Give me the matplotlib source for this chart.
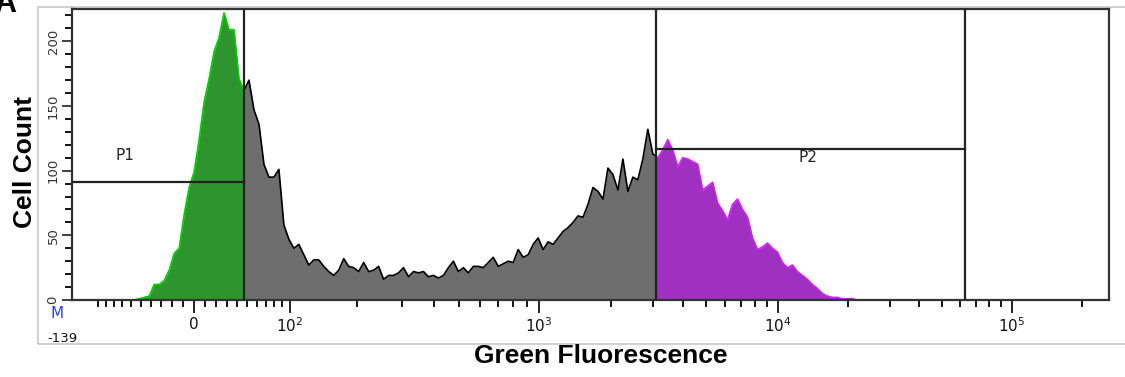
import numpy as np
import matplotlib.pyplot as plt
from matplotlib.patches import Rectangle

# ---- biexponential axis calibration (value -> fraction of axis width) ----
axis_values = [-139, 0, 100, 1000, 10000, 100000, 262143]
axis_fracs = [0.0, 0.1176, 0.2102, 0.4503, 0.6808, 0.9065, 1.0]

# ---- histogram (display channels, counts) ----
n_bins = 208
first_bin = 13
cell_counts = [
    1, 2, 3, 12, 12, 15, 23, 36, 40, 66, 87, 99, 124, 153, 171, 192, 203,
    222, 209, 209, 171, 162, 170, 147, 136, 105, 95, 95, 101, 58, 47, 40,
    43, 35, 27, 31, 31, 26, 22, 19, 23, 32, 26, 25, 22, 29, 22, 23, 26, 16,
    19, 19, 21, 25, 18, 22, 21, 22, 18, 19, 17, 19, 25, 30, 22, 25, 21, 26,
    26, 25, 29, 33, 26, 28, 30, 29, 39, 33, 35, 43, 48, 39, 45, 43, 48, 53,
    56, 60, 65, 64, 74, 87, 84, 78, 102, 97, 85, 109, 84, 95, 93, 109, 132,
    113, 110, 116, 124, 116, 103, 110, 109, 107, 105, 85, 88, 91, 75, 69,
    62, 74, 78, 70, 64, 48, 39, 41, 44, 40, 37, 29, 25, 27, 22, 19, 16, 12,
    9, 5, 3, 2, 2, 1, 1, 1,
]

# ---- gates ----
p1_gate = (-139, 47)
p1_level = 91
p2_gate = (3100, 63000)
p2_level = 117
p1_label = (-67, 112)
p2_label = (13400, 110)

y_max = 225
x_major = [0, 100, 1000, 10000, 100000]
x_major_labels = ['0', '$10^2$', '$10^3$', '$10^4$', '$10^5$']
x_minor = ([v for v in range(-100, 100, 10) if v != 0]
           + [k * 10 ** d for d in (2, 3, 4) for k in range(2, 10)]
           + [200000])
y_major = [0, 50, 100, 150, 200]
y_minor = list(range(0, 221, 10))

plt.rcParams['mathtext.default'] = 'regular'

fig = plt.figure(figsize=(11.25, 3.77), dpi=100)
ax = fig.add_axes([72 / 1125, 1 - 300 / 377, 1037 / 1125, 291 / 377])

c = 90.0
knot_t = np.arcsinh(np.array(axis_values, float) / c)


def fwd(x):
    return np.interp(np.arcsinh(np.asarray(x, float) / c), knot_t, axis_fracs)


def inv(f):
    return c * np.sinh(np.interp(np.asarray(f, float), axis_fracs, knot_t))


ax.set_xscale('function', functions=(fwd, inv))
ax.set_xlim(axis_values[0], axis_values[-1])
ax.set_ylim(0, y_max)

# bin centres evenly spaced on the display scale
centers = inv((np.arange(n_bins) + 0.5) / n_bins)
counts = np.zeros(n_bins)
counts[first_bin:first_bin + len(cell_counts)] = cell_counts

regions = [
    (axis_values[0], p1_gate[1], '#2e952e', '#00cc00'),
    (p1_gate[1], p2_gate[0], '#6e6e6e', '#000000'),
    (p2_gate[0], axis_values[-1], '#a030c0', '#d21cff'),
]
for lo, hi, fc, ec in regions:
    clip1 = Rectangle((lo, 0), hi - lo, 1, transform=ax.get_xaxis_transform())
    clip2 = Rectangle((lo, 0), hi - lo, 1, transform=ax.get_xaxis_transform())
    area = ax.fill_between(centers, counts, color=fc, lw=0, zorder=1)
    area.set_clip_path(clip1)
    line, = ax.plot(centers, counts, color=ec, lw=1.2, zorder=2)
    line.set_clip_path(clip2)

# gate lines
gate_kw = dict(color='#222222', lw=1.6, zorder=3)
ax.plot([p1_gate[0], p1_gate[1]], [p1_level, p1_level], **gate_kw)
ax.plot([p1_gate[1], p1_gate[1]], [0, y_max], **gate_kw)
ax.plot([p2_gate[0], p2_gate[1]], [p2_level, p2_level], **gate_kw)
ax.plot([p2_gate[0], p2_gate[0]], [0, y_max], **gate_kw)
ax.plot([p2_gate[1], p2_gate[1]], [0, y_max], **gate_kw)
ax.text(*p1_label, 'P1', ha='center', va='center', fontsize=11, color='#222222')
ax.text(*p2_label, 'P2', ha='center', va='center', fontsize=11, color='#222222')

# axes / ticks
for sp in ax.spines.values():
    sp.set_linewidth(1.6)
    sp.set_color('#333333')
ax.set_xticks(x_major, x_major_labels)
ax.set_xticks(x_minor, minor=True)
ax.set_yticks(y_major, [str(v) for v in y_major])
ax.set_yticks(y_minor, minor=True)
ax.tick_params(axis='x', which='major', length=9, width=1.3, pad=3,
               labelsize=11, colors='#111111')
ax.tick_params(axis='x', which='minor', length=5, width=1.3)
ax.tick_params(axis='y', which='major', length=7, width=1.3, pad=2,
               labelsize=9.5, colors='#333333', labelrotation=90)
ax.tick_params(axis='y', which='minor', length=5, width=1.3)
for lab in ax.get_yticklabels():
    lab.set_va('center')

fig.text(57 / 1125, 1 - 313 / 377, 'M', color='#2a3cf0', fontsize=11,
         ha='center', va='center')
fig.text(62 / 1125, 1 - 338 / 377, '-139', fontsize=9.5, color='#111111',
         ha='center', va='center')

fig.text(601 / 1125, 1 - 356 / 377, 'Green Fluorescence', fontsize=19,
         fontweight='bold', family='Liberation Sans', ha='center', va='center')
fig.text(25 / 1125, 1 - 162 / 377, 'Cell Count', fontsize=19, rotation=90,
         fontweight='bold', family='Liberation Sans', ha='center', va='center')
fig.text(-6 / 1125, 1 - 12 / 377, 'A', fontsize=22, fontweight='bold',
         family='Liberation Sans', ha='left', va='baseline')

fig.add_artist(Rectangle((38 / 1125, 1 - 344 / 377), 1.2, 337 / 377,
                         transform=fig.transFigure, fill=False,
                         ec='#c8c8c8', lw=1.2, zorder=0))

fig.savefig('out.png', dpi=100)
